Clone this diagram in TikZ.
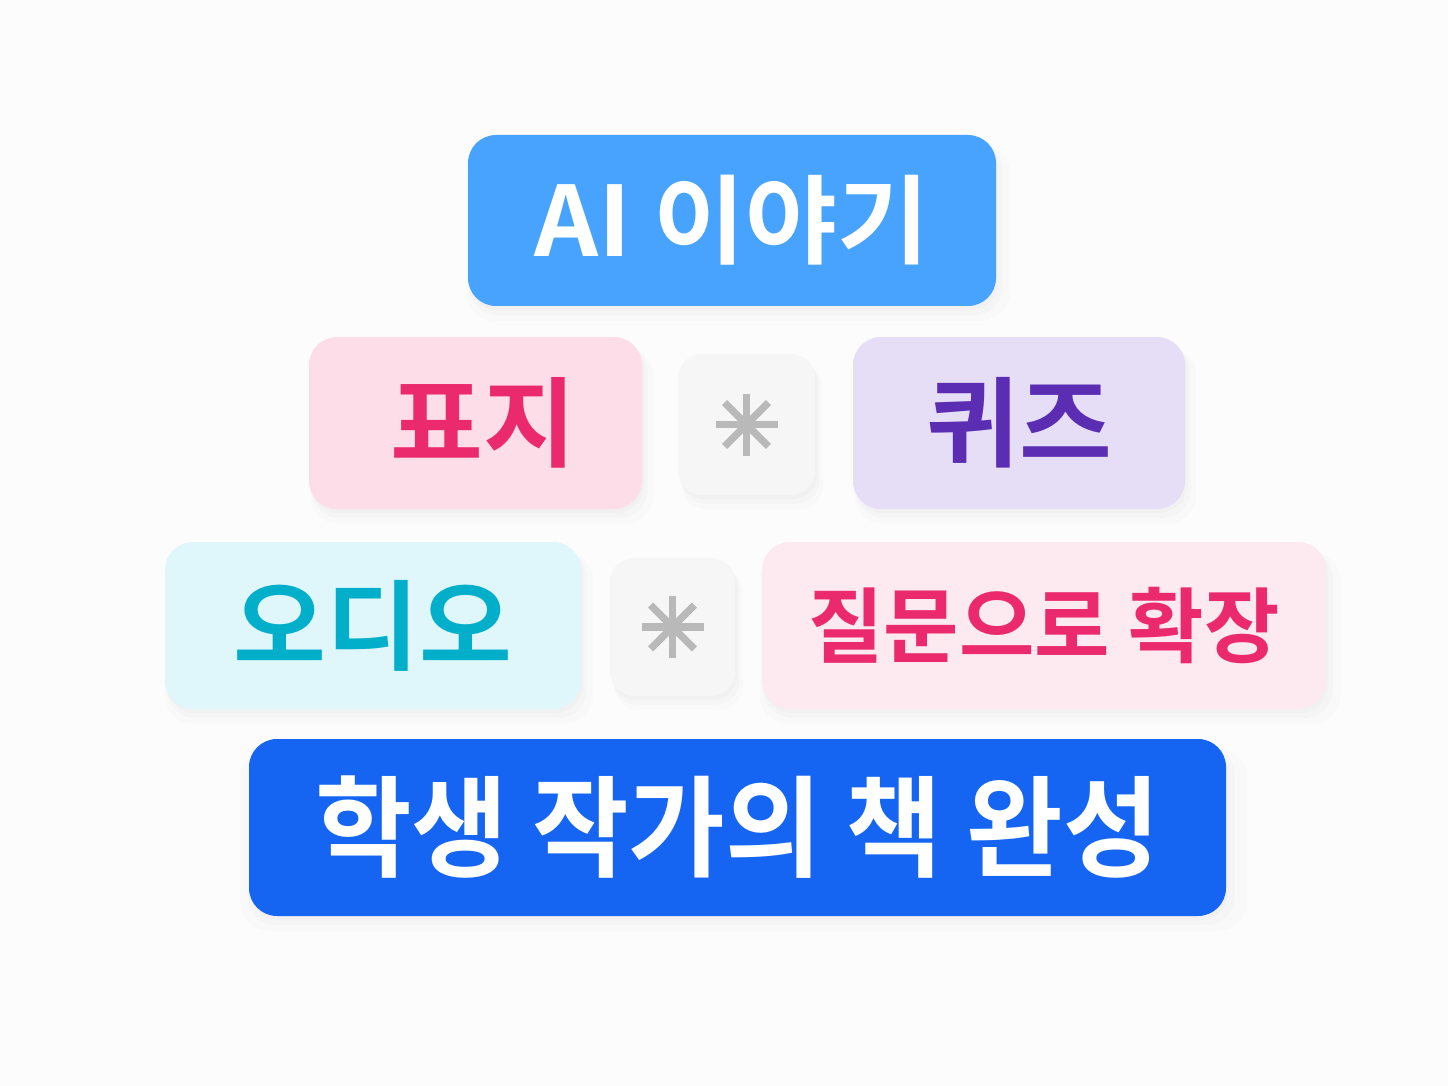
\documentclass[tikz,border=0pt]{standalone}
\usepackage{fontspec}
\usetikzlibrary{shadows}
\newfontfamily\krbold{Noto Sans CJK KR Bold}
\newfontfamily\krwide[FakeStretch=1.03]{Noto Sans CJK KR Bold}
\newfontfamily\krnarrow[FakeStretch=0.955]{Noto Sans CJK KR Bold}
\definecolor{bgpage}{HTML}{FCFCFC}
\definecolor{aiblue}{HTML}{47A3FE}
\definecolor{bookblue}{HTML}{1565F2}
\definecolor{pinkfill}{HTML}{FDDDE8}
\definecolor{pinktext}{HTML}{EA2A6C}
\definecolor{lilacfill}{HTML}{E6DDF6}
\definecolor{purpletext}{HTML}{5B2DB3}
\definecolor{cyanfill}{HTML}{DFF6FB}
\definecolor{cyantext}{HTML}{02AFCB}
\definecolor{rosefill}{HTML}{FDE9F0}
\definecolor{starfill}{HTML}{F6F6F6}
\definecolor{stargray}{HTML}{B9B9B9}
\begin{document}
\begin{tikzpicture}[x=0.5pt,y=-0.5pt]
    \tikzstyle{tile}=[rounded corners=14pt, inner sep=0pt, align=center,
      drop shadow={opacity=0.025, shadow xshift=3pt, shadow yshift=-6pt, shadow scale=1.03},
      drop shadow={opacity=0.03, shadow xshift=2pt, shadow yshift=-4pt, shadow scale=1.01},
      drop shadow={opacity=0.03, shadow xshift=1pt, shadow yshift=-2pt}]
    \tikzstyle{midtxt}=[font=\krwide\fontsize{49}{49}\selectfont]
    \tikzstyle{startile}=[tile, fill=starfill, rounded corners=12pt]
    \fill[bgpage] (0,0) rectangle (1448,1086);
    \useasboundingbox (0,0) rectangle (1448,1086);
    % top
    \node[tile, fill=aiblue, text=white, font=\krwide\fontsize{48.5}{48.5}\selectfont, minimum width=264pt, minimum height=85.5pt] (ai) at (732,220.5) {AI 이야기};
    % middle row
    \node[tile, fill=pinkfill, text=pinktext, midtxt, minimum width=166.5pt, minimum height=86pt] (cover) at (475.5,423) {\hspace{8pt}표지};
    \node[startile, minimum width=68.5pt, minimum height=70.5pt] (s1) at (746.5,424.5) {};
    \node[tile, fill=lilacfill, text=purpletext, midtxt, minimum width=166pt, minimum height=86pt] (quiz) at (1019,423) {퀴즈};
    % lower row
    \node[tile, fill=cyanfill, text=cyantext, midtxt, minimum width=208pt, minimum height=83.5pt] (audio) at (373,625.5) {오디오};
    \node[startile, minimum width=62.5pt, minimum height=69pt] (s2) at (672.5,627) {};
    \node[tile, fill=rosefill, text=pinktext, font=\krbold\fontsize{41}{41}\selectfont, minimum width=282pt, minimum height=83.5pt] (expand) at (1044,625.5) {질문으로 확장};
    % bottom
    \node[tile, fill=bookblue, text=white, font=\krnarrow\fontsize{55}{55}\selectfont, minimum width=488.5pt, minimum height=88.5pt] (book) at (737.5,827.5) {학생 작가의 책 완성};
    % asterisks
    \foreach \s in {s1,s2}
      \foreach \a in {0,45,90,135}
        \draw[stargray, line width=3.6pt] (\s.center) ++(\a:15.5pt) -- ++(\a+180:31pt);
\end{tikzpicture}
\end{document}
